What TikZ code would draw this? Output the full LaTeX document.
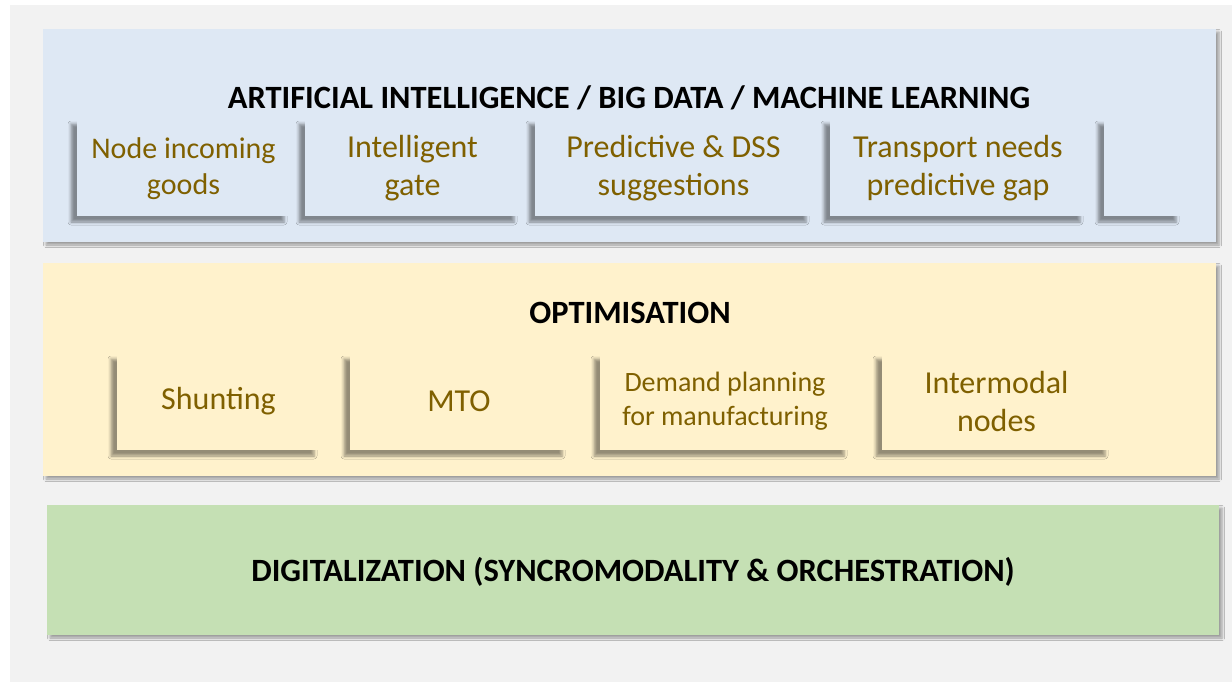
\documentclass[tikz,border=0pt]{standalone}
\usepackage{fontspec}
\setmainfont{Carlito}
\usetikzlibrary{shadows.blur}
\definecolor{bgray}{HTML}{F2F2F2}
\definecolor{pblue}{HTML}{DEE8F4}
\definecolor{pyellow}{HTML}{FFF2CC}
\definecolor{pgreen}{HTML}{C5E0B4}
\definecolor{tbrown}{HTML}{7F6000}
\tikzset{
  panel/.style={draw=none, minimum width=1173pt, minimum height=213pt, inner sep=0pt,
    blur shadow={shadow xshift=3pt, shadow yshift=-3pt, shadow blur radius=2.5pt, shadow opacity=35}},
  inbox/.style={draw=none, inner sep=0pt, minimum height=98pt,
    blur shadow={shadow xshift=-6pt, shadow yshift=-6pt, shadow blur radius=3pt, shadow opacity=42}},
  btext/.style={text=tbrown, align=center, inner sep=0pt, font=\fontsize{32}{38}\selectfont},
  title/.style={font=\bfseries\fontsize{32.5}{38}\selectfont, text=black, inner sep=0pt}
}
\begin{document}
\begin{tikzpicture}[x=1pt,y=-1pt]
\useasboundingbox (0,0) rectangle (1232,682);
\fill[bgray] (10,5) rectangle (1232,682);
% panels
\node[panel, fill=pblue] (ai) at (629.5,135.5) {};
\node[panel, fill=pyellow] (opt) at (629.5,369.5) {};
\node[panel, fill=pgreen, minimum width=1172pt, minimum height=130pt] (dig) at (633,570) {};
% titles
\node[title] (tai) at (629,98) {ARTIFICIAL INTELLIGENCE / BIG DATA / MACHINE LEARNING};
\node[title] (topt) at (630,313) {OPTIMISATION};
\node[title] (tdig) at (633,572) {DIGITALIZATION (SYNCROMODALITY \& ORCHESTRATION)};
% AI boxes
\node[inbox, fill=pblue, minimum width=213pt] (b1) at (183.5,167) {};
\node[inbox, fill=pblue, minimum width=215pt] (b2) at (412.5,167) {};
\node[inbox, fill=pblue, minimum width=277pt] (b3) at (673.5,167) {};
\node[inbox, fill=pblue, minimum width=256pt] (b4) at (958,167) {};
\node[inbox, fill=pblue, minimum width=78pt] (b5) at (1143,167) {};
\node[btext, font=\fontsize{30}{36}\selectfont] (b1t) at ([yshift=-2pt]b1.center) {Node incoming\\goods};
\node[btext] (b2t) at ([yshift=-1pt]b2.center) {Intelligent\\gate};
\node[btext] (b3t) at ([yshift=-1pt]b3.center) {Predictive \& DSS\\suggestions};
\node[btext] (b4t) at ([yshift=-1pt]b4.center) {Transport needs\\predictive gap};
% optimisation boxes
\node[inbox, fill=pyellow, minimum width=203pt, minimum height=97pt] (y1) at (218.5,401.5) {};
\node[inbox, fill=pyellow, minimum width=218pt, minimum height=97pt] (y2) at (459,401.5) {};
\node[inbox, fill=pyellow, minimum width=250pt, minimum height=97pt] (y3) at (725,401.5) {};
\node[inbox, fill=pyellow, minimum width=229pt, minimum height=97pt] (y4) at (996.5,401.5) {};
\node[btext] (y1t) at (y1.center) {Shunting};
\node[btext] (y2t) at (y2.center) {MTO};
\node[btext, font=\fontsize{28}{34}\selectfont] (y3t) at (y3.center) {Demand planning\\for manufacturing};
\node[btext] (y4t) at (y4.center) {Intermodal\\nodes};
\end{tikzpicture}
\end{document}
